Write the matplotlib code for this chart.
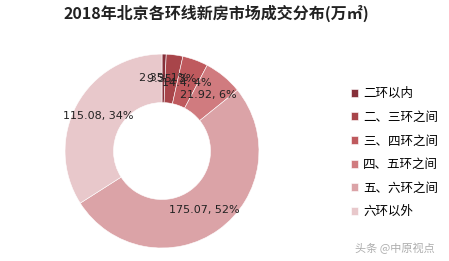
import matplotlib
matplotlib.use("Agg")
import matplotlib.pyplot as plt

plt.rcParams['font.family'] = ['Noto Sans CJK SC', 'DejaVu Sans']

# data: 2018 Beijing new-home transactions by ring road (10k m2)
categories = ["二环以内", "二、三环之间", "三、四环之间", "四、五环之间", "五、六环之间", "六环以外"]
values = [2.35, 9.35, 14.4, 21.92, 175.07, 115.08]
colors = ["#86303a", "#a8454a", "#bf5a5e", "#d07b7f", "#dba3a7", "#e8c8cb"]

total = sum(values)
labels = [f"{v:g}, {round(v / total * 100):.0f}%" for v in values]

fig = plt.figure(figsize=(4.49, 2.61), dpi=100)

# -------------------------------
# donut
# -------------------------------
ax = fig.add_axes([0.1448, 0.0498, 0.432, 0.743])
wedges, texts = ax.pie(values, colors=colors, startangle=90, counterclock=False,
                       labels=labels, labeldistance=0.75,
                       wedgeprops=dict(width=0.5, edgecolor="white", linewidth=0.4),
                       textprops=dict(fontsize=8, color="#222222", family="DejaVu Sans"))
for t in texts:
    t.set_ha("center")
    t.set_va("center")
ax.set_xlim(-1, 1)
ax.set_ylim(-1, 1)

# -------------------------------
# title, legend, watermark
# -------------------------------
fig.text(0.482, 0.95, "2018年北京各环线新房市场成交分布(万㎡)", ha="center", va="center",
         fontsize=11.5, fontweight="bold", color="#222222")

fig.legend(wedges, categories, loc="upper left", bbox_to_anchor=(0.77, 0.685),
           frameon=False, fontsize=9, handlelength=0.6, handleheight=0.6,
           handletextpad=0.4, labelspacing=0.85, borderaxespad=0)

fig.text(0.88, 0.05, "头条 @中原视点", ha="center", va="center",
         fontsize=8, color="#999999", alpha=0.8)

plt.savefig("out.png", dpi=100)
